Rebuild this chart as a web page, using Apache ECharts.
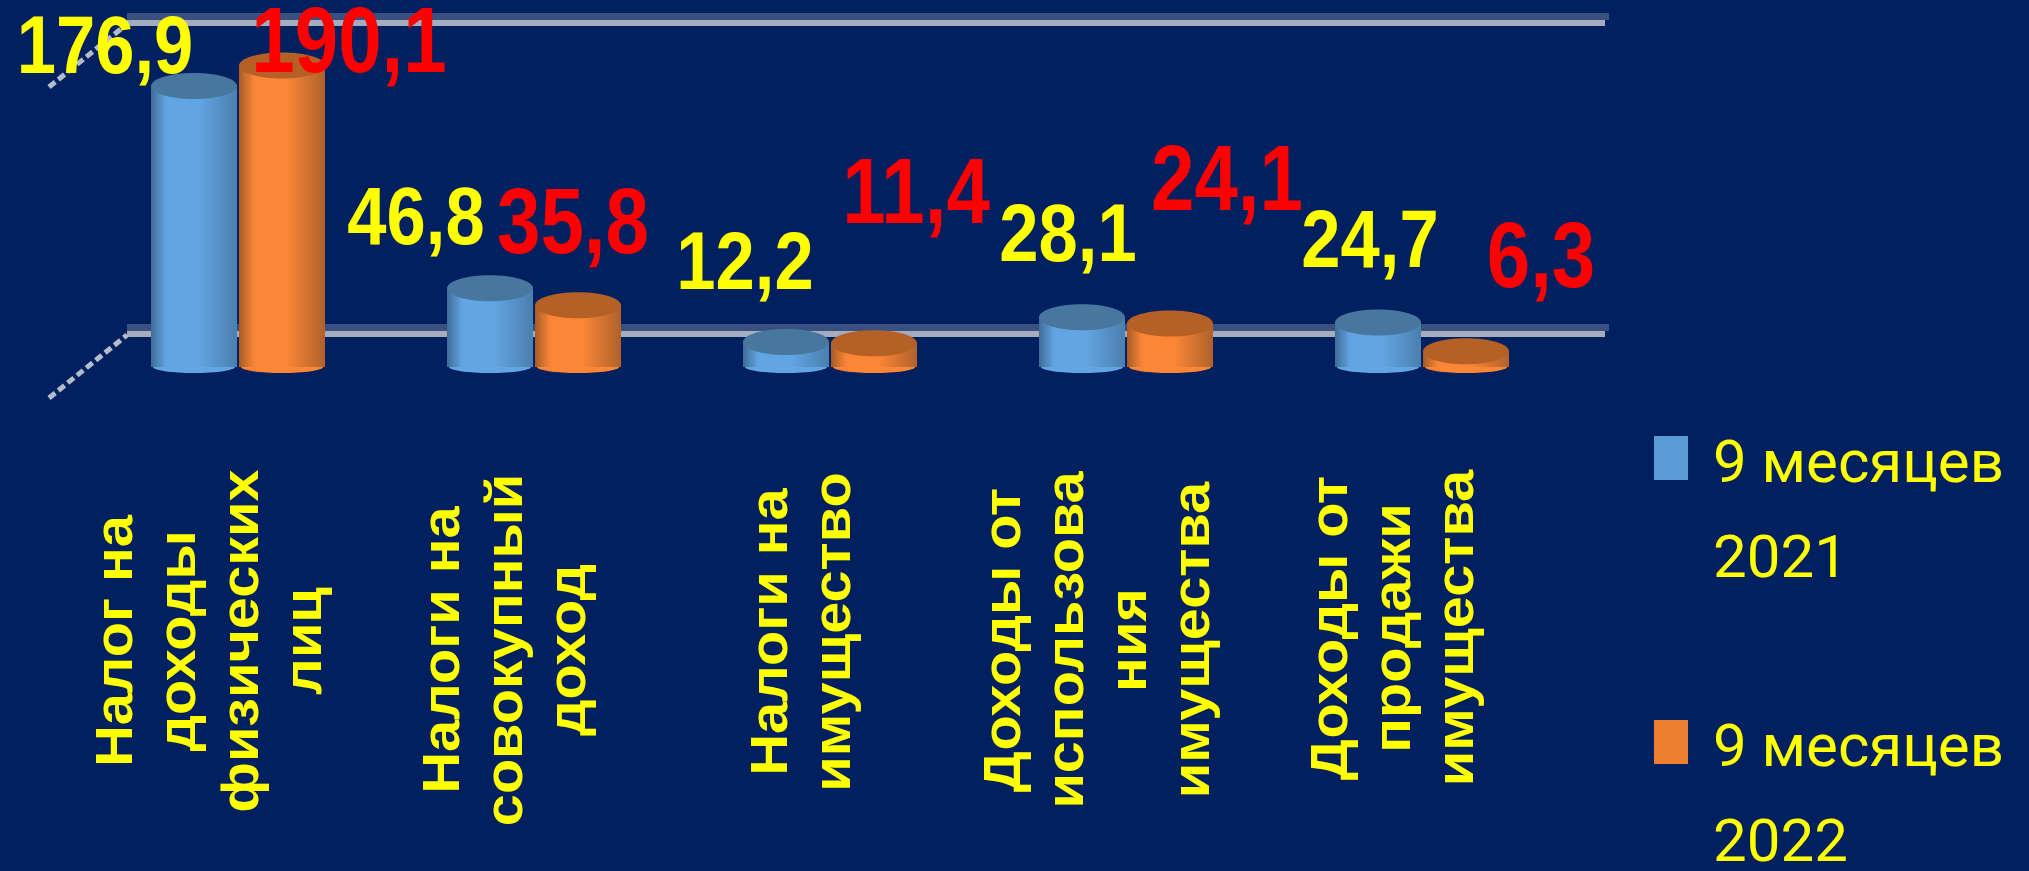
<!DOCTYPE html>
<html>
<head>
<meta charset="utf-8">
<style>html,body{margin:0;padding:0;background:#002060}#c{width:2029px;height:871px}</style>
<script src="https://cdn.jsdelivr.net/npm/echarts@6/dist/echarts.min.js"></script>
</head>
<body>
<div id="c"></div>
<script>
const categories = ['Налог на\nдоходы\nфизических\nлиц', 'Налоги на\nсовокупный\nдоход', 'Налоги на\nимущество', 'Доходы от\nиспользова\nния\nимущества', 'Доходы от\nпродажи\nимущества'];
const seriesNames = ['9 месяцев\n2021', '9 месяцев\n2022'];
const values2021 = [176.9, 46.8, 12.2, 28.1, 24.7];
const values2022 = [190.1, 35.8, 11.4, 24.1, 6.3];
const wallTicks = [0, 200];

// label placement, relative to the bar it belongs to
const dx2021 = [-89, -74, -41, -14, -8];
const dy2021 = [-48, -79, -88, -91, -90];
const dx2022 = [67, -5, 42, 57, 75];
const dy2022 = [-31, -90, -158, -151, -102];
const catLabelY = [641, 650, 632, 640, 628];

const BAR_W = 86;
const grad = (a, b, c) => new echarts.graphic.LinearGradient(0, 0, 1, 0, [
  {offset: 0, color: a}, {offset: 0.18, color: b}, {offset: 0.55, color: b}, {offset: 1, color: c}
]);

function barSeries(name, values, shift, cols, labelColor, size, dx, dy, scaleX) {
  return {
    type: 'custom', name, z: 3,
    itemStyle: {color: cols.swatch},
    data: values.map((v, i) => [i, v]),
    renderItem(params, api) {
      const i = api.value(0), v = api.value(1);
      const top = api.coord([i, v]), base = api.coord([i, 0]);
      const cx = top[0] + shift, r = BAR_W / 2;
      const bodyTop = top[1] - 12, bottom = base[1] - 6;
      const label = String(v).replace('.', ',');
      return {type: 'group', children: [
        {type: 'ellipse', shape: {cx, cy: bottom, rx: r - 2, ry: 6}, style: {fill: cols.body}},
        {type: 'rect', shape: {x: cx - r, y: bodyTop, width: BAR_W, height: Math.max(bottom - bodyTop, 0)},
         style: {fill: grad(cols.edgeL, cols.body, cols.edgeR)}},
        {type: 'ellipse', shape: {cx, cy: bodyTop, rx: r, ry: 13}, style: {fill: cols.cap}},
        {type: 'text', x: cx + dx[i], y: top[1] + dy[i], scaleX,
         style: {text: label, fill: labelColor, align: 'center', verticalAlign: 'middle',
                 font: 'bold ' + size + 'px "Liberation Sans",sans-serif'}}
      ]};
    }
  };
}

const legendLine = {color: '#ffff00', fontFamily: 'Roboto', fontSize: 60, lineHeight: 95, padding: [0, 0, 0, 20]};

const option = {
  backgroundColor: '#002060',
  animation: false,
  grid: {left: 91, width: 1480, top: 62, height: 311, containLabel: false},
  xAxis: {type: 'category', data: categories, show: false},
  yAxis: {type: 'value', min: 0, max: 200, interval: 200, show: false},
  legend: {
    left: 1654, top: 333, height: 800, padding: 0, orient: 'vertical', icon: 'rect', itemWidth: 34, itemHeight: 44, itemGap: 25,
    data: seriesNames, selectedMode: false,
    formatter: n => '{gap|\u00a0}\n' + n.split('\n').map(s => '{line|' + s + '}').join('\n'),
    textStyle: {color: '#ffff00', fontFamily: 'Roboto', fontSize: 60,
      rich: {gap: {fontSize: 60, lineHeight: 113}, line: legendLine}}
  },
  series: [
    {
      type: 'custom', name: 'стена', z: 1, silent: true,
      data: wallTicks.map(t => [0, t]),
      renderItem(params, api) {
        const y = api.coord([0, api.value(1)])[1];
        const cs = params.coordSys, x0 = cs.x + 36, x1 = cs.x + cs.width + 38;
        return {type: 'group', children: [
          {type: 'line', shape: {x1: x0, y1: y - 45.5, x2: x1, y2: y - 45.5}, style: {stroke: '#3a5080', lineWidth: 7}},
          {type: 'line', shape: {x1: x0, y1: y - 39, x2: x1 - 4, y2: y - 39}, style: {stroke: '#a4acbe', lineWidth: 6}},
          {type: 'line', shape: {x1: cs.x - 42, y1: y + 25, x2: x0, y2: y - 38},
           style: {stroke: '#b4bccc', lineWidth: 5, lineDash: [8, 4]}}
        ]};
      }
    },
    barSeries(seriesNames[0], values2021, -45, {swatch: '#5b9bd5', edgeL: '#3f6c97', body: '#62a5e3', edgeR: '#4a7fae', cap: '#47779f'}, '#ffff00', 82, dx2021, dy2021, 0.86),
    barSeries(seriesNames[1], values2022, 43, {swatch: '#ed7d31', edgeL: '#a85c28', body: '#fb8636', edgeR: '#b0612b', cap: '#b46027'}, '#ff0000', 93, dx2022, dy2022, 0.84),
    {
      type: 'custom', name: 'подписи', z: 4, silent: true,
      data: categories.map((c, i) => [i, 0]),
      renderItem(params, api) {
        const i = api.value(0), p = api.coord([i, 0]);
        return {type: 'text', x: p[0] - 27, y: catLabelY[i], rotation: Math.PI / 2, scaleX: 1.13,
          style: {text: categories[i], fill: '#ffff00', align: 'center', verticalAlign: 'middle', lineHeight: 63,
                  font: 'bold 51px "Liberation Sans",sans-serif'}};
      }
    }
  ]
};
echarts.init(document.getElementById('c')).setOption(option);
</script>
</body>
</html>
